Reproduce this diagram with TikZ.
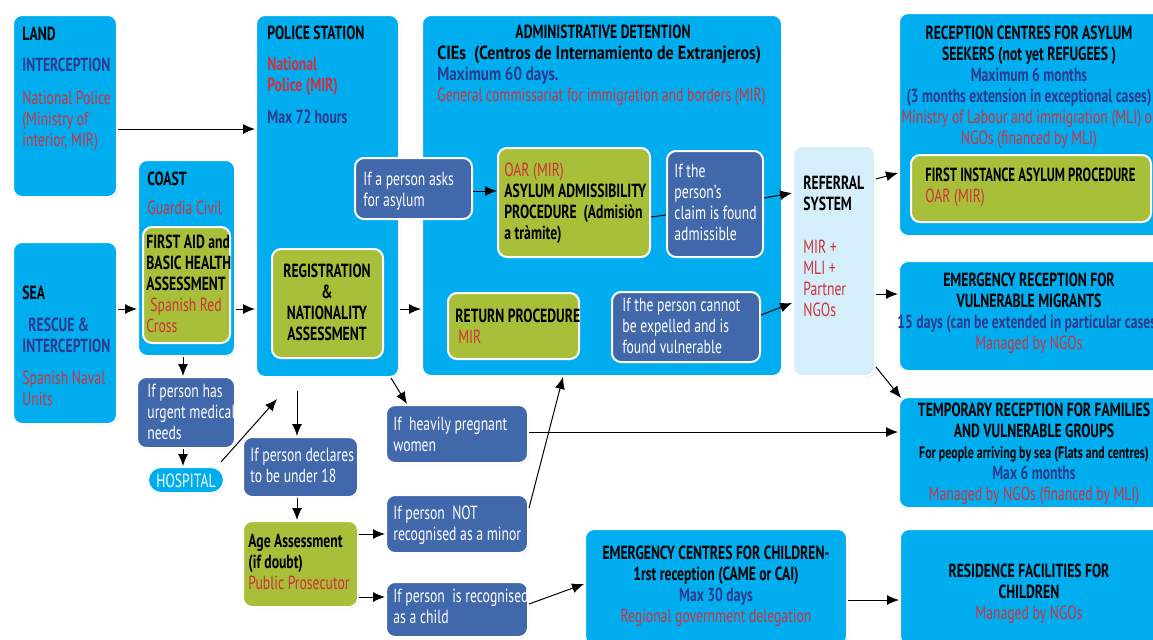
\documentclass[tikz,border=0pt]{standalone}
\usepackage{fontspec}
\setmainfont{PT Sans}[FakeStretch=0.72]
\usepackage{graphicx}
\usetikzlibrary{fit,shadows,arrows.meta}
\definecolor{cyanB}{HTML}{00AEEF}
\definecolor{dblueB}{HTML}{4068AA}
\definecolor{greenB}{HTML}{A8BF3A}
\definecolor{refB}{HTML}{D4EEFA}
\definecolor{tred}{HTML}{D0303B}
\definecolor{tblue}{HTML}{2E3A8F}
\newcommand\RedT[1]{\textcolor{tred}{#1}}
\newcommand\BlueB[1]{\textcolor{tblue}{\textbf{#1}}}
\newcommand\fsz{\fontsize{9.5}{10.5}\selectfont}
\tikzset{
  cbox/.style={rounded corners=4.5pt, fill=cyanB, draw=white, line width=1pt, inner sep=0pt,
    drop shadow={shadow xshift=0.5pt, shadow yshift=-0.5pt, opacity=0.35}},
  gbox/.style={cbox, fill=greenB},
  dbox/.style={cbox, fill=dblueB},
  rbox/.style={cbox, fill=refB},
  tx/.style={inner sep=0pt, align=left, font=\fsz, anchor=north west, yshift=7.35pt,
    execute at begin node=\strut},
  txc/.style={tx, align=center, anchor=north},
  wtx/.style={tx, text=white},
  arr/.style={-{Latex[length=6pt,width=5pt]}, line width=0.5pt},
}
\begin{document}
\begin{tikzpicture}[x=0.5pt, y=-0.5pt]
\useasboundingbox (0,0) rectangle (1153,639);
\clip (0,0) rectangle (1153,639);
% main boxes
\node[cbox, fit={(13,15) (117,197)}] (land) {};
\node[cbox, fit={(13,242) (117,424)}] (sea) {};
\node[cbox, fit={(256,15) (399,377)}] (police) {};
\node[cbox, fit={(138,160) (235,356)}] (coast) {};
\node[cbox, fit={(422,15) (782,376)}] (admin) {};
\node[rbox, fit={(793,146) (875,376)}] (ref) {};
\node[cbox, fit={(899,13) (1162,236)}] (rec) {};
\node[cbox, fit={(899,261) (1162,371)}] (em) {};
\node[cbox, fit={(899,397) (1162,508)}] (tmp) {};
\node[cbox, fit={(585,529) (847,645)}] (ec) {};
\node[cbox, fit={(900,529) (1162,645)}] (res) {};
% inner boxes
\node[gbox, fit={(143,227) (230,343)}] (aid) {};
\node[gbox, fit={(272,249) (383,358)}] (reg) {};
\node[dbox, fit={(355,158) (472,219)}] (ask) {};
\node[gbox, fit={(498,148) (650,257)}] (oar) {};
\node[dbox, fit={(667,151) (763,257)}] (claim) {};
\node[gbox, fit={(448,293) (579,359)}] (ret) {};
\node[dbox, fit={(612,292) (760,362)}] (cannot) {};
\node[gbox, fit={(911,155) (1151,222)}] (fi) {};
% lower boxes
\node[dbox, fit={(137,377) (235,448)}] (urg) {};
\node[cbox, rounded corners=6.5pt, fit={(148,467) (224,493)}] (hosp) {};
\node[dbox, fit={(243,437) (358,497)}] (decl) {};
\node[gbox, fit={(243,521) (358,607)}] (age) {};
\node[dbox, fit={(386,405) (528,463)}] (preg) {};
\node[dbox, fit={(386,495) (528,553)}] (notm) {};
\node[dbox, fit={(386,582) (528,637)}] (child) {};

% texts
\node[tx] (landT) at (22,41) {\textbf{LAND}\\[5pt]\BlueB{INTERCEPTION}\\[6pt]\RedT{National Police}\\\RedT{(Ministry of}\\\RedT{interior, MIR)}};
\node[tx] (policeT) at (267,40) {\textbf{POLICE STATION}\\[5pt]\RedT{\textbf{National}}\\\RedT{\textbf{Police (MIR)}}\\[5.5pt]\BlueB{Max 72 hours}};
\node[tx] (coastT) at (147,186) {\textbf{COAST}\\[4pt]\RedT{Guardia Civil}};
\node[tx] (aidT) at (146,249) {\textbf{FIRST AID and}\\\textbf{BASIC HEALTH}\\\textbf{ASSESSMENT}\\\hspace{2pt}\RedT{Spanish Red}\\\RedT{Cross}};
\node[tx] (seaT) at (22,300) {\textbf{SEA}\\[5.5pt]\hspace{3pt}\BlueB{RESCUE \&}\\\BlueB{INTERCEPTION}\\[5.5pt]\RedT{Spanish Naval}\\\RedT{Units}};
\node[txc] (regT) at (327,278) {\textbf{REGISTRATION}\\\textbf{\&}\\\textbf{NATIONALITY}\\\textbf{ASSESSMENT}};
\node[wtx] (urgT) at (147,398) {If person has\\urgent medical\\needs};
\node[txc, text=white] (hospT) at (186,487) {HOSPITAL};
\node[wtx] (declT) at (250,462) {If person declares\\to be under 18};
\node[tx] (ageT) at (248,548) {\textbf{Age Assessment}\\\textbf{(if doubt)}\\\RedT{Public Prosecutor}};
\node[wtx] (pregT) at (393,431) {If\ \ heavily pregnant\\women};
\node[wtx] (notT) at (393,520) {If person\ \ NOT\\recognised as a minor};
\node[wtx] (childT) at (393,603) {If person\ \ is recognised\\as a child};
\node[wtx] (askT) at (363,186) {If a person asks\\for asylum};
\node[txc] (adminT1) at (603,38) {\textbf{ADMINISTRATIVE DETENTION}};
\node[tx] (adminT2) at (437,60) {\scalebox{1.17}[1]{\textbf{CIEs\ \ (Centros de Internamiento de Extranjeros)}}\\\scalebox{1.1}[1]{\BlueB{Maximum 60 days.}}\\\RedT{General commissariat for immigration and borders (MIR)}};
\node[tx] (oarT) at (504,177) {\RedT{OAR (MIR)}\\\textbf{ASYLUM ADMISSIBILITY}\\\textbf{PROCEDURE\ \ (Admisiòn}\\\textbf{a tràmite)}};
\node[wtx] (claimT) at (674,178) {If the\\person’s\\claim is found\\admissible};
\node[tx] (retT) at (455,323) {\textbf{RETURN PROCEDURE}\\\hspace{1.5pt}\RedT{MIR}};
\node[wtx] (cannotT) at (622,312) {If the person cannot\\be expelled and is\\found vulnerable};
\node[tx] (refT) at (803,190) {\textbf{REFERRAL}\\\textbf{SYSTEM}\\[11pt]\RedT{MIR +}\\\RedT{MLI +}\\\RedT{Partner}\\\RedT{NGOs}};
\node[txc] (recT) at (1029,40) {\textbf{RECEPTION CENTRES FOR ASYLUM}\\\textbf{SEEKERS (not yet REFUGEES )}\\\BlueB{Maximum 6 months}\\\BlueB{(3 months extension in exceptional cases)}\\\RedT{Ministry of Labour and immigration (MLI) or}\\\RedT{NGOs (financed by MLI)}};
\node[tx] (fiT) at (925,182) {\scalebox{0.93}[1]{\textbf{FIRST INSTANCE ASYLUM PROCEDURE}}\\\RedT{OAR (MIR)}};
\node[txc] (emT) at (1029,287) {\textbf{EMERGENCY RECEPTION FOR}\\\textbf{VULNERABLE MIGRANTS}\\\BlueB{15 days (can be extended in particular cases)}\\\RedT{Managed by NGOs}};
\node[txc] (tmpT) at (1034,417) {\textbf{TEMPORARY RECEPTION FOR FAMILIES}\\\textbf{AND VULNERABLE GROUPS}\\{\fontsize{8.3}{10.5}\selectfont\textbf{For people arriving by sea (Flats and centres)}}\\\BlueB{Max 6 months}\\\RedT{Managed by NGOs (financed by MLI)}};
\node[txc] (ecT) at (716,560) {\textbf{EMERGENCY CENTRES FOR CHILDREN-}\\\textbf{1rst reception (CAME or CAI)}\\\BlueB{Max 30 days}\\\RedT{Regional government delegation}};
\node[txc] (resT) at (1029,578) {\textbf{RESIDENCE FACILITIES FOR}\\\textbf{CHILDREN}\\\RedT{Managed by NGOs}};

% connectors
\coordinate (hospEnd) at (277,399);
\coordinate (polOut) at (297,391);
\draw[arr] (land.east |- 0,129) -- (police.west |- 0,129);
\draw[arr] (sea.east |- 0,309) -- (coast.west |- 0,309);
\draw[arr] (coast.east |- 0,309) -- (police.west |- 0,309);
\draw[arr] (police.east |- 0,309) -- (admin.west |- 0,309);
\draw[arr] (coast.south -| 183,0) -- (urg.north -| 183,0);
\draw[arr] (urg.south -| 183,0) -- (hosp.north -| 183,0);
\draw[arr] ([shift={(-4,-4)}]hosp.north east) -- (hospEnd);
\draw[arr] (polOut) -- (decl.north -| polOut);
\draw[arr] (decl.south -| 297,0) -- (age.north -| 297,0);
\draw[arr] (police.south -| 391,0) -- (preg.north -| 407,0);
\draw[arr] (preg.east |- 0,432) -- (tmp.west |- 0,432);
\draw[arr] (age.east |- 0,534) -- (notm.west |- 0,534);
\draw[arr] (age.east |- 0,597) -- (child.west |- 0,597);
\draw[arr] (notm.east |- 0,508) -- (admin.south -| 563,0);
\draw[arr] (child.east |- 0,604) -- (ec.west |- 0,584);
\draw[arr] (ec.east |- 0,600) -- (res.west |- 0,600);
\draw[arr] (ask.east |- 0,191) -- (oar.west |- 0,191);
\draw[line width=0.5pt] (oar.east |- 0,217) -- (claim.west |- 0,215);
\draw[arr] (claim.east |- 0,198) -- (ref.west |- 0,193);
\draw[arr] (cannot.east |- 0,315) -- (ref.west |- 0,303);
\draw[arr] (ref.east |- 0,179) -- (rec.west |- 0,173);
\draw[arr] (ref.east |- 0,294) -- (em.west |- 0,294);
\draw[arr] (ref.east |- 0,367) -- ([shift={(3,2)}]tmp.north west);
\end{tikzpicture}
\end{document}
